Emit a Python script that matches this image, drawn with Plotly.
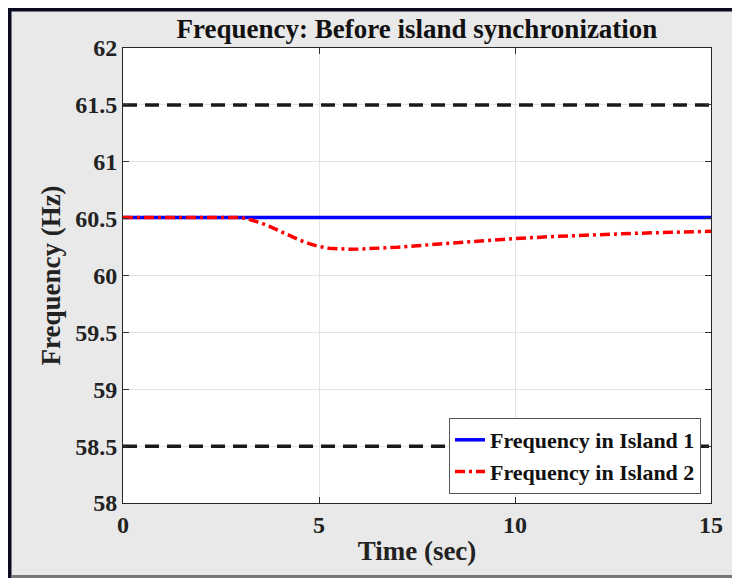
import plotly.graph_objects as go

t_island1 = [0, 15]
f_island1 = [60.51, 60.51]
t_island2 = [0, 1, 2, 3, 3.25, 3.5, 3.75, 4, 4.25, 4.5, 4.75, 5, 5.25, 5.5, 5.75, 6, 6.5, 7, 7.5, 8,
             9, 10, 11, 12, 13, 14, 15]
f_island2 = [60.51, 60.51, 60.51, 60.51, 60.49, 60.465, 60.43, 60.39, 60.35, 60.312, 60.28, 60.255,
             60.24, 60.233, 60.231, 60.232, 60.238, 60.248, 60.262, 60.276,
             60.302, 60.325, 60.343, 60.358, 60.37, 60.38, 60.388]
limit_upper = 61.5
limit_lower = 58.5
x_ticks = [0, 5, 10, 15]
y_ticks = [58, 58.5, 59, 59.5, 60, 60.5, 61, 61.5, 62]

FONT = "Liberation Serif"
L, R, T, B = 115, 37, 40, 83
PW, PH = 740 - L - R, 578 - T - B

fig = go.Figure()
for lim in (limit_upper, limit_lower):
    fig.add_trace(go.Scatter(x=[0, 15], y=[lim, lim], mode="lines",
                             line=dict(color="#1a1a1a", width=3.5, dash="14px,8px"), showlegend=False))
fig.add_trace(go.Scatter(x=t_island1, y=f_island1, mode="lines", name="<b>Frequency in Island 1</b>",
                         line=dict(color="#0000ff", width=3.5)))
fig.add_trace(go.Scatter(x=t_island2, y=f_island2, mode="lines", name="<b>Frequency in Island 2</b>",
                         line=dict(color="#ff0000", width=3.5, dash="10px,4px,3px,4px")))

fig.update_layout(
    width=740, height=578,
    paper_bgcolor="#e9e9e9", plot_bgcolor="white",
    margin=dict(l=L, r=R, t=T, b=B),
    title=dict(text="<b>Frequency: Before island synchronization</b>", x=0.5, xanchor="center",
               xref="paper", y=1 - 21 / 578, yanchor="middle",
               font=dict(family=FONT, size=27, color="#111")),
    font=dict(family=FONT, color="#222"),
    showlegend=True,
    legend=dict(x=(693 - L) / PW, y=(T + PH - 486) / PH, xanchor="right", yanchor="bottom",
                bgcolor="white", bordercolor="#555", borderwidth=1,
                font=dict(family=FONT, size=22, color="#111"),
                tracegroupgap=0),
)
fig.update_xaxes(range=[0, 15], tickvals=x_ticks, ticktext=[f"<b>{v}</b>" for v in x_ticks],
                 tickfont=dict(size=24, color="#222"), ticks="inside", ticklen=6, tickcolor="#333",
                 showline=True, linecolor="#262626", linewidth=1, mirror="ticks",
                 showgrid=True, gridcolor="#e4e4e4", zeroline=False,
                 title=dict(text="<b>Time (sec)</b>", font=dict(size=27, color="#222"), standoff=4))
fig.update_yaxes(range=[58, 62], tickvals=y_ticks, ticktext=[f"<b>{v:g}</b>" for v in y_ticks],
                 tickfont=dict(size=24, color="#222"), ticks="inside", ticklen=6, tickcolor="#333",
                 showline=True, linecolor="#262626", linewidth=1, mirror="ticks",
                 showgrid=True, gridcolor="#e4e4e4", zeroline=False,
                 title=dict(text="<b>Frequency (Hz)</b>", font=dict(size=27, color="#222"), standoff=6))

# frame border (figure coordinates converted to paper coordinates)
def px(xf):
    return (xf - L) / PW

def py(yf):
    return (T + PH - yf) / PH

fig.add_shape(type="line", xref="paper", yref="paper", x0=px(1.5), x1=px(1.5), y0=py(578), y1=py(0),
              line=dict(color="#0a0a22", width=4))
fig.add_shape(type="line", xref="paper", yref="paper", x0=px(0), x1=px(740), y0=py(1.5), y1=py(1.5),
              line=dict(color="#0a0a22", width=4))
fig.add_shape(type="line", xref="paper", yref="paper", x0=px(3.5), x1=px(740), y0=py(568.5), y1=py(568.5),
              line=dict(color="#777777", width=3))

fig.write_html("out.html")
